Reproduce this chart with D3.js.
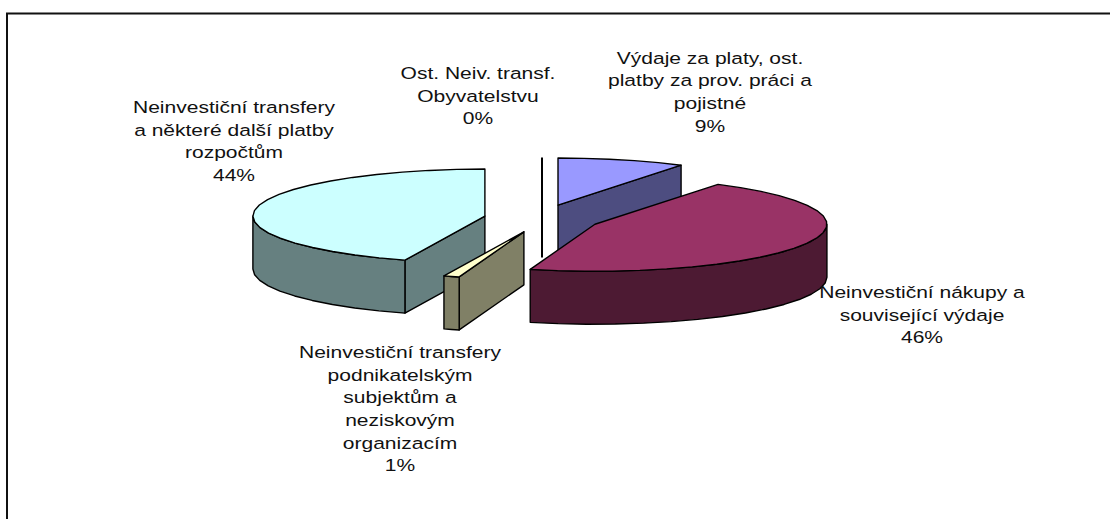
<!DOCTYPE html>
<html><head><meta charset="utf-8">
<script src="https://cdn.jsdelivr.net/npm/d3@7"></script>
<style>html,body{margin:0;padding:0;background:#fff;overflow:hidden}svg{display:block}text{font-family:"Liberation Sans",Arial,sans-serif;font-size:16.3px;fill:#111}</style>
</head><body><svg id="c" width="1110" height="519"></svg>
<script>
const categories = ["Výdaje za platy, ost. platby za prov. práci a pojistné","Neinvestiční nákupy a související výdaje","Neinvestiční transfery podnikatelským subjektům a neziskovým organizacím","Neinvestiční transfery a některé další platby rozpočtům","Ost. Neiv. transf. Obyvatelstvu"];
const values = [8.9,45.6,1.1,44.4,0];
const percentLabels = ["9%","46%","1%","44%","0%"];
const topColors = ["#9999FF","#993366","#FFFFCC","#CCFFFF","#FFFFFF"];
const sideColors = ["#4D4D80","#4D1A33","#808066","#668080","#808080"];
const labelLines = [
  ["Výdaje za platy, ost.","platby za prov. práci a","pojistné"],
  ["Neinvestiční nákupy a","související výdaje"],
  ["Neinvestiční transfery","podnikatelským","subjektům a","neziskovým","organizacím"],
  ["Neinvestiční transfery","a některé další platby","rozpočtům"],
  ["Ost. Neiv. transf.","Obyvatelstvu"]
];
const labelAnchors = [[710,63.5],[922,298],[400,358],[234,113],[478,79]];

const svg = d3.select("#c");
const cx=542, cy=218.5, rx=232, ry=47, depth=53, exX=58, exY=14;
svg.append("path").attr("d","M7,519V13.5H1110").attr("fill","none").attr("stroke","#111").attr("stroke-width",2);

const arcs = d3.pie().sort(null).value(v=>v).startAngle(0).endAngle(2*Math.PI)(values);
const line = d3.line();
arcs.forEach(a=>{
  const m=(a.startAngle+a.endAngle)/2;
  a.cx=cx+exX*Math.sin(m); a.cy=cy-exY*Math.cos(m);
  a.rim=t=>[a.cx+rx*Math.sin(t),a.cy-ry*Math.cos(t)];
});
const sample=(s,e,n)=>d3.range(n+1).map(i=>s+(e-s)*i/n);
const down=p=>[p[0],p[1]+depth];
function face(g,a,t,fill){
  const p=a.rim(t),c=[a.cx,a.cy];
  g.append("path").attr("d",line([c,p,down(p),down(c)])+"Z").attr("fill",fill);
}
const order=d3.range(arcs.length).sort((i,j)=>arcs[i].cy-arcs[j].cy);
const chart=svg.append("g").attr("stroke","#000").attr("stroke-width",1.4).attr("stroke-linejoin","round");
order.forEach(i=>{
  const a=arcs[i],g=chart.append("g");
  if(a.endAngle-a.startAngle<1e-6){
    g.append("path").attr("d",line([a.rim(a.startAngle),[a.cx,a.cy],down([a.cx,a.cy])])).attr("fill","none").attr("stroke-width",2);
    return;
  }
  if(Math.sin(a.startAngle)<0) face(g,a,a.startAngle,sideColors[i]);
  if(Math.sin(a.endAngle)>0) face(g,a,a.endAngle,sideColors[i]);
  const ws=Math.max(a.startAngle,Math.PI/2), we=Math.min(a.endAngle,3*Math.PI/2);
  if(we>ws){
    const n=Math.max(2,Math.round((we-ws)/0.12));
    const top=sample(ws,we,n).map(a.rim);
    g.append("path").attr("d",line(top.concat(top.slice().reverse().map(down)))+"Z").attr("fill",sideColors[i]);
  }
  const n=Math.max(2,Math.round((a.endAngle-a.startAngle)/0.12));
  g.append("path").attr("d",line([[a.cx,a.cy]].concat(sample(a.startAngle,a.endAngle,n).map(a.rim)))+"Z").attr("fill",topColors[i]);
});
const lh=22.7, stretch=1.29;
labelLines.forEach((ls,i)=>{
  const t=svg.append("text").attr("text-anchor","middle")
    .attr("transform",`translate(${labelAnchors[i][0]},${labelAnchors[i][1]}) scale(${stretch},1)`);
  ls.concat([percentLabels[i]]).forEach((s,k)=>t.append("tspan").attr("x",0).attr("y",k*lh).text(s));
});
</script></body></html>
